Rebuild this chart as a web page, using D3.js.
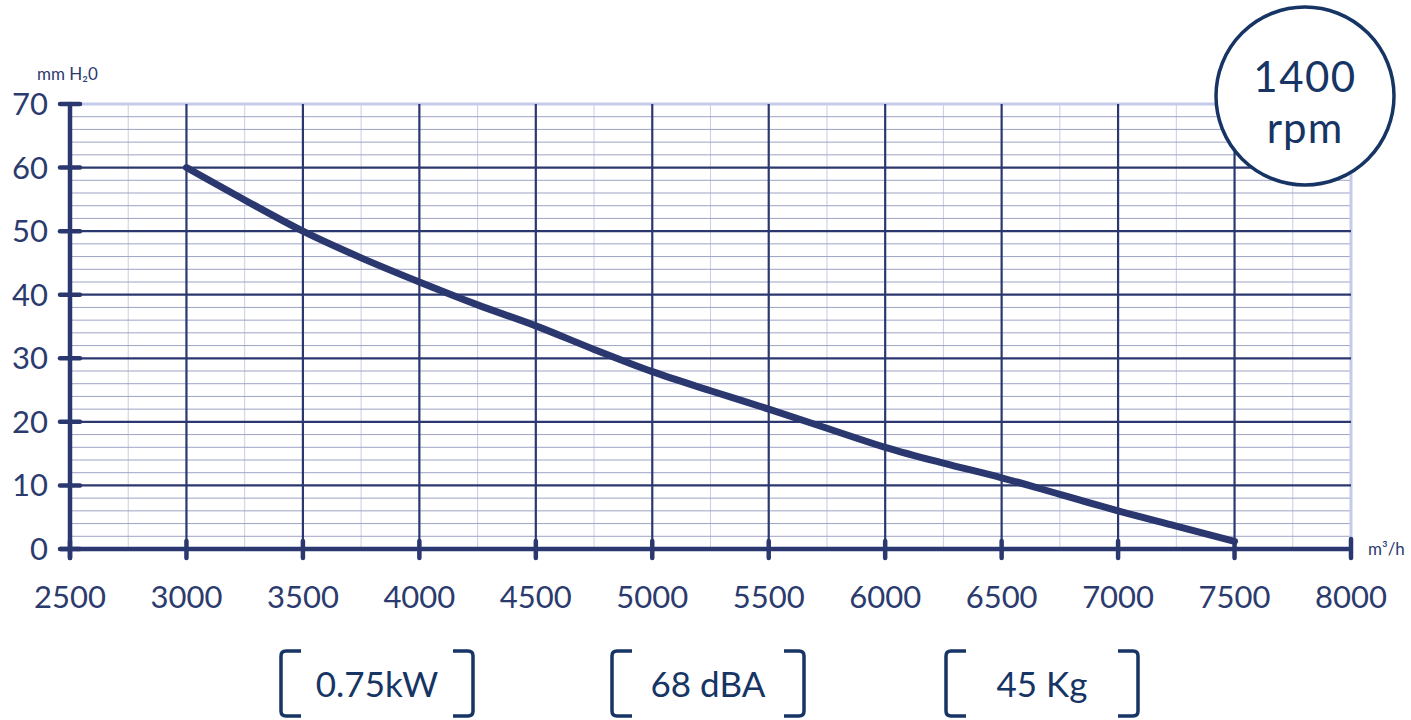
<!DOCTYPE html>
<html><head><meta charset="utf-8">
<script src="https://cdn.jsdelivr.net/npm/d3@7"></script>
<style>html,body{margin:0;padding:0;background:#fff;}svg{display:block;font-family:Lato,"Open Sans",sans-serif;}</style>
</head><body>
<svg id="c" width="1411" height="720"></svg>
<script>
const flow = [3000,3250,3500,3750,4000,4250,4500,4750,5000,5250,5500,5750,6000,6250,6500,6750,7000,7250,7500];
const pressure = [60,54.9,50,45.8,42,38.4,35.1,31.4,27.9,24.9,22,19,16,13.5,11.2,8.6,6,3.6,1.2];
const xTicks = [2500,3000,3500,4000,4500,5000,5500,6000,6500,7000,7500,8000];
const yTicks = [0,10,20,30,40,50,60,70];
const specs = ["0.75kW","68 dBA","45 Kg"];
const speedLabel = ["1400","rpm"];
const yUnit = "mm H\u20820";
const xUnit = "m\u00B3/h";

const navy = "#2b3870", text = "#2c3b6e", dark = "#163564";
const svg = d3.select("#c");
const x = d3.scaleLinear().domain([2500,8000]).range([70,1351]);
const y = d3.scaleLinear().domain([0,70]).range([549,104]);

// minor grid
const minorX = d3.range(2750,8000,500);
svg.append("g").selectAll("line").data(minorX).join("line")
  .attr("x1",d=>x(d)).attr("x2",d=>x(d)).attr("y1",y(70)).attr("y2",y(0))
  .attr("stroke","#c9cde0").attr("stroke-width",1);
const minorY = d3.range(2,70,2).filter(v=>v%10!==0);
svg.append("g").selectAll("line").data(minorY).join("line")
  .attr("x1",x(2500)).attr("x2",x(8000)).attr("y1",d=>y(d)).attr("y2",d=>y(d))
  .attr("stroke","#9ea3c6").attr("stroke-width",1);
// top and right light borders
svg.append("line").attr("x1",x(2500)).attr("x2",x(8000)).attr("y1",y(70)).attr("y2",y(70))
  .attr("stroke","#c5cbea").attr("stroke-width",3);
svg.append("line").attr("x1",x(8000)).attr("x2",x(8000)).attr("y1",y(70)).attr("y2",y(0))
  .attr("stroke","#c5cbea").attr("stroke-width",3);
// major grid
svg.append("g").selectAll("line").data(yTicks.filter(v=>v>0&&v<70)).join("line")
  .attr("x1",x(2500)).attr("x2",x(8000)).attr("y1",d=>y(d)).attr("y2",d=>y(d))
  .attr("stroke",navy).attr("stroke-width",2.2);
svg.append("g").selectAll("line").data(xTicks.filter(v=>v>2500&&v<8000)).join("line")
  .attr("x1",d=>x(d)).attr("x2",d=>x(d)).attr("y1",y(70)).attr("y2",y(0))
  .attr("stroke",navy).attr("stroke-width",2.2);

// axes
svg.append("line").attr("x1",x(2500)).attr("x2",x(2500)).attr("y1",y(70)).attr("y2",y(0)+9)
  .attr("stroke",navy).attr("stroke-width",4.5).attr("stroke-linecap","round");
svg.append("line").attr("x1",x(2500)-10).attr("x2",x(8000)).attr("y1",y(0)).attr("y2",y(0))
  .attr("stroke",navy).attr("stroke-width",4.5);
svg.append("g").selectAll("line").data(yTicks).join("line")
  .attr("x1",x(2500)-10).attr("x2",x(2500)+10).attr("y1",d=>y(d)).attr("y2",d=>y(d))
  .attr("stroke",navy).attr("stroke-width",4.5).attr("stroke-linecap","round");
svg.append("g").selectAll("line").data(xTicks).join("line")
  .attr("x1",d=>x(d)).attr("x2",d=>x(d)).attr("y1",d=>y(0)-(d===8000?10:8)).attr("y2",y(0)+9)
  .attr("stroke",navy).attr("stroke-width",4.5).attr("stroke-linecap","round");

// labels
svg.append("g").selectAll("text").data(yTicks).join("text")
  .attr("x",x(2500)-22).attr("y",d=>y(d)+11).attr("text-anchor","end")
  .attr("font-size",31).attr("fill",text).text(d=>d);
svg.append("g").selectAll("text").data(xTicks).join("text")
  .attr("x",d=>x(d)).attr("y",608).attr("text-anchor","middle")
  .attr("font-size",31).attr("fill",text).text(d=>d);
svg.append("text").attr("x",37).attr("y",80).attr("font-size",17).attr("fill",text).text(yUnit);
svg.append("text").attr("x",1368).attr("y",555).attr("font-size",17).attr("fill",text).text(xUnit);

// curve
svg.append("path").datum(flow.map((f,i)=>[f,pressure[i]]))
  .attr("d",d3.line().x(d=>x(d[0])).y(d=>y(d[1])).curve(d3.curveMonotoneX))
  .attr("fill","none").attr("stroke",navy).attr("stroke-width",7).attr("stroke-linecap","round");

// circle
svg.append("circle").attr("cx",1305).attr("cy",96).attr("r",89)
  .attr("fill","#fff").attr("stroke",dark).attr("stroke-width",3.5);
svg.append("text").attr("x",1305).attr("y",92).attr("text-anchor","middle")
  .attr("font-size",42).attr("letter-spacing",1.5).attr("fill",dark).text(speedLabel[0]);
svg.append("text").attr("x",1305).attr("y",143).attr("text-anchor","middle")
  .attr("font-size",42).attr("letter-spacing",1).attr("fill",dark).text(speedLabel[1]);

// spec boxes
const centers = [377,708,1042];
specs.forEach((s,i)=>{
  const cx = centers[i], hw = 96, top = 651, bot = 716, arm = 20, r = 5;
  const g = svg.append("g").attr("fill","none").attr("stroke",dark).attr("stroke-width",3.5);
  const L = cx-hw, R = cx+hw;
  g.append("path").attr("d",`M${L+arm},${top} H${L+r} Q${L},${top} ${L},${top+r} V${bot-r} Q${L},${bot} ${L+r},${bot} H${L+arm}`);
  g.append("path").attr("d",`M${R-arm},${top} H${R-r} Q${R},${top} ${R},${top+r} V${bot-r} Q${R},${bot} ${R-r},${bot} H${R-arm}`);
  svg.append("text").attr("x",cx).attr("y",697).attr("text-anchor","middle")
    .attr("font-size",35).attr("fill",dark).text(s);
});
</script>
</body></html>
